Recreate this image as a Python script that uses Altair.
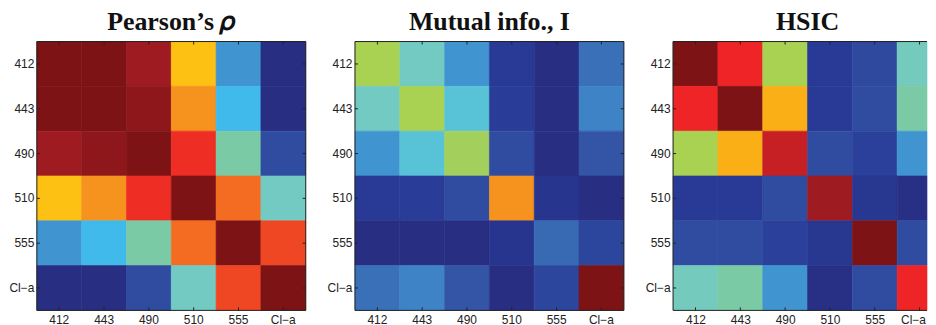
import altair as alt
import pandas as pd

cats = ["412", "443", "490", "510", "555", "Cl\u2212a"]

titles = ["Pearson\u2019s \U0001D70C", "Mutual info., I", "HSIC"]

# rows top (412) to bottom (Cl-a); columns left to right
pearson = [
    [1.00, 1.00, 0.94, 0.68, 0.30, 0.03],
    [1.00, 1.00, 0.97, 0.76, 0.37, 0.03],
    [0.94, 0.97, 1.00, 0.87, 0.50, 0.16],
    [0.68, 0.76, 0.87, 1.00, 0.80, 0.45],
    [0.30, 0.37, 0.50, 0.80, 1.00, 0.84],
    [0.03, 0.03, 0.16, 0.45, 0.84, 1.00],
]
mutual = [
    [0.58, 0.45, 0.30, 0.10, 0.03, 0.24],
    [0.45, 0.58, 0.41, 0.11, 0.03, 0.27],
    [0.30, 0.41, 0.57, 0.16, 0.03, 0.19],
    [0.10, 0.11, 0.16, 0.76, 0.07, 0.03],
    [0.03, 0.03, 0.03, 0.07, 0.23, 0.14],
    [0.24, 0.27, 0.19, 0.03, 0.14, 1.00],
]
hsic = [
    [1.00, 0.88, 0.58, 0.10, 0.15, 0.46],
    [0.88, 1.00, 0.71, 0.10, 0.16, 0.50],
    [0.58, 0.71, 0.91, 0.16, 0.12, 0.30],
    [0.10, 0.10, 0.16, 0.94, 0.08, 0.04],
    [0.16, 0.16, 0.12, 0.08, 1.00, 0.16],
    [0.46, 0.50, 0.30, 0.04, 0.16, 0.88],
]

stops = [0.0, 0.1, 0.2, 0.3, 0.37, 0.45, 0.5, 0.58, 0.68, 0.76, 0.84, 0.88, 0.94, 1.0]
colors = ["#28297a", "#283a96", "#3558a8", "#4095d1", "#3fbaeb", "#72cac3",
          "#7bcaa6", "#a9d152", "#fdc113", "#f6921e", "#ef4723", "#ee2426",
          "#9e1b22", "#7d1315"]

W = 270          # full panel size (6 cells of 45 px)
W3 = 255         # visible width of the last panel (cut at the page edge)
FRAME = "#222"
N = len(cats)


def to_long(mat):
    rows = []
    for i, r in enumerate(cats):
        for j, c in enumerate(cats):
            rows.append({"row": r, "col": c, "ci": j, "ci2": j + 1, "v": mat[i][j]})
    return pd.DataFrame(rows)


tick_df = pd.DataFrame({"cat": cats, "mid": [i + 0.5 for i in range(N)]})
one = pd.DataFrame({"k": [0]})
label_js = "[" + ",".join("'" + c + "'" for c in cats) + "]"


def panel(mat, title, last=False):
    ys = alt.Y("row:N", sort=cats, title=None,
               scale=alt.Scale(paddingInner=0, paddingOuter=0),
               axis=alt.Axis(orient="left", ticks=False, domain=False, labelPadding=3))
    cscale = alt.Scale(domain=stops, range=colors, interpolate="rgb")
    col = dict(color=alt.Color("v:Q", legend=None, scale=cscale),
               stroke=alt.Stroke("v:Q", legend=None, scale=cscale))
    if last:
        # cut at the page edge: the scale shows only W3/W of the six columns
        xq = alt.Scale(domain=[0, N * W3 / W], clamp=True, nice=False, zero=False)
        xaxis = alt.Axis(orient="bottom", values=[i + 0.5 for i in range(N)],
                         labelExpr=label_js + "[floor(datum.value)]",
                         ticks=False, domain=False, grid=False, labelPadding=4,
                         labelAlign={"condition": {"test": "datum.value > %d" % (N - 1),
                                                   "value": "right"}, "value": "center"},
                         labelOffset={"condition": {"test": "datum.value > %d" % (N - 1),
                                                    "value": 6}, "value": 0})
        heat = alt.Chart(to_long(mat)).mark_rect(strokeWidth=0.6).encode(
            x=alt.X("ci:Q", title=None, scale=xq, axis=xaxis), x2="ci2:Q", y=ys, **col)
        tx = alt.X("mid:Q", title=None)
    else:
        xs = alt.X("col:N", sort=cats, title=None,
                   scale=alt.Scale(paddingInner=0, paddingOuter=0),
                   axis=alt.Axis(orient="bottom", labelAngle=0, ticks=False, domain=False,
                                 labelPadding=4))
        heat = alt.Chart(to_long(mat)).mark_rect(strokeWidth=0.6).encode(x=xs, y=ys, **col)
        tx = alt.X("cat:N", sort=cats, title=None)
    ty = alt.Y("cat:N", sort=cats, title=None)
    tick_style = dict(color=FRAME, strokeWidth=1)
    w = W3 if last else W
    layers = [
        heat,
        alt.Chart(tick_df).mark_rule(**tick_style).encode(x=tx, y=alt.value(0), y2=alt.value(3)),
        alt.Chart(tick_df).mark_rule(**tick_style).encode(x=tx, y=alt.value(W - 3), y2=alt.value(W)),
        alt.Chart(tick_df).mark_rule(**tick_style).encode(y=ty, x=alt.value(0), x2=alt.value(3)),
        # frame
        alt.Chart(one).mark_rule(**tick_style).encode(y=alt.value(0), x=alt.value(0), x2=alt.value("width")),
        alt.Chart(one).mark_rule(**tick_style).encode(y=alt.value("height"), x=alt.value(0), x2=alt.value("width")),
        alt.Chart(one).mark_rule(**tick_style).encode(x=alt.value(0), y=alt.value(0), y2=alt.value("height")),
    ]
    if not last:
        layers += [
            alt.Chart(tick_df).mark_rule(**tick_style).encode(y=ty, x=alt.value(W - 3), x2=alt.value(W)),
            alt.Chart(one).mark_rule(**tick_style).encode(x=alt.value("width"), y=alt.value(0), y2=alt.value("height")),
        ]
    return alt.layer(*layers).properties(
        width=w, height=W,
        title=alt.TitleParams(title, font="Liberation Serif", fontSize=26,
                              fontWeight="bold", color="#111", offset=6,
                              anchor="middle", dx=(W - W3) / 2 if last else 0),
    )


chart = alt.hconcat(
    panel(pearson, titles[0]), panel(mutual, titles[1]), panel(hsic, titles[2], last=True),
    spacing=19.5,
).configure_view(strokeWidth=0).configure_axis(
    labelFont="Liberation Sans", labelFontSize=12, labelColor="#222",
).properties(padding={"left": 0, "top": 0, "right": 0, "bottom": 0})

chart.save("out.html", embed_options={"renderer": "svg", "actions": False})
